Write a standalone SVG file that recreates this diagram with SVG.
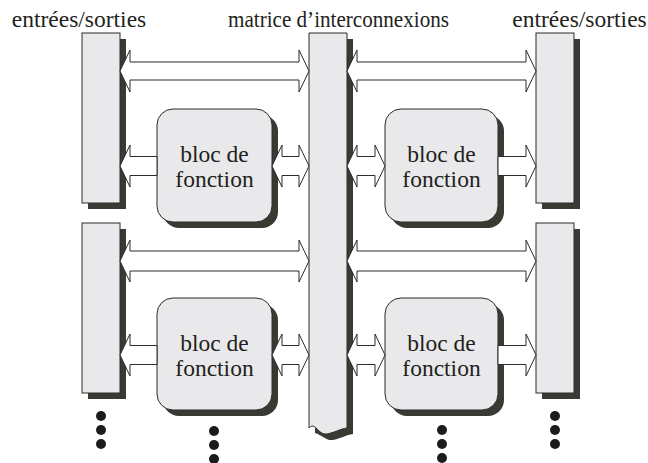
<svg xmlns="http://www.w3.org/2000/svg" width="648" height="463" viewBox="0 0 648 463">
  <style>
    .shadow { fill: #3a3a35; }
    .box { fill: #e9e9eb; stroke: #2b2b2b; stroke-width: 1; }
    .arrow { fill: #ffffff; stroke: #2b2b2b; stroke-width: 1; stroke-linejoin: miter; }
    .label { font-family: "Liberation Serif", "Times New Roman", serif; font-size: 23.5px; fill: #231f20; text-anchor: middle; }
    .dot { fill: #1c1c1c; }
  </style>
  <rect width="648" height="463" fill="#ffffff"/>

  <!-- column headings -->
  <g id="headings">
    <text class="label" x="79" y="27">entrées/sorties</text>
    <text class="label" x="338.5" y="27" style="font-size:22.5px" textLength="221" lengthAdjust="spacingAndGlyphs">matrice d’interconnexions</text>
    <text class="label" x="579.5" y="27">entrées/sorties</text>
  </g>

  <!-- I/O banks -->
  <g id="io-top-left">
    <rect class="shadow" x="88" y="39" width="38" height="170"/>
    <rect class="box" x="82" y="33" width="38" height="170"/>
  </g>
  <g id="io-bottom-left">
    <rect class="shadow" x="88" y="229" width="38" height="170"/>
    <rect class="box" x="82" y="223" width="38" height="170"/>
  </g>
  <g id="io-top-right">
    <rect class="shadow" x="542" y="39" width="38" height="170"/>
    <rect class="box" x="536" y="33" width="38" height="170"/>
  </g>
  <g id="io-bottom-right">
    <rect class="shadow" x="542" y="229" width="38" height="170"/>
    <rect class="box" x="536" y="223" width="38" height="170"/>
  </g>

  <!-- interconnect matrix with torn bottom edge -->
  <g id="matrix">
    <path class="shadow" d="M315,39 H353 V434 C346,435 342,438 333,440 C326,441 322,435 315,433 Z"/>
    <path class="box" d="M309,33 H347 V428 C340,429 336,432 327,434 C320,435 317,427 313,426 C311,426 310,427 309,428 Z"/>
  </g>

  <!-- function blocks -->
  <g id="block-top-left">
    <rect class="shadow" x="163" y="115" width="115" height="113" rx="16"/>
    <rect class="box" x="157" y="109" width="115" height="113" rx="16"/>
    <text class="label" x="214.5" y="162">bloc de</text>
    <text class="label" x="214.5" y="187">fonction</text>
  </g>
  <g id="block-top-right">
    <rect class="shadow" x="391" y="115" width="113" height="113" rx="16"/>
    <rect class="box" x="385" y="109" width="113" height="113" rx="16"/>
    <text class="label" x="441.5" y="162">bloc de</text>
    <text class="label" x="441.5" y="187">fonction</text>
  </g>
  <g id="block-bottom-left">
    <rect class="shadow" x="163" y="304" width="115" height="112" rx="16"/>
    <rect class="box" x="157" y="298" width="115" height="112" rx="16"/>
    <text class="label" x="214.5" y="351">bloc de</text>
    <text class="label" x="214.5" y="376">fonction</text>
  </g>
  <g id="block-bottom-right">
    <rect class="shadow" x="391" y="304" width="113" height="112" rx="16"/>
    <rect class="box" x="385" y="298" width="113" height="112" rx="16"/>
    <text class="label" x="441.5" y="351">bloc de</text>
    <text class="label" x="441.5" y="376">fonction</text>
  </g>

  <!-- bus connectors -->
  <g id="connectors">
    <!-- I/O to matrix, upper row -->
    <polygon class="arrow" points="120,71 130,50 130,62 299,62 299,50 309,71 299,92 299,80 130,80 130,92"/>
    <polygon class="arrow" points="347,71 357,50 357,62 526,62 526,50 536,71 526,92 526,80 357,80 357,92"/>
    <!-- I/O to matrix, lower row -->
    <polygon class="arrow" points="120,261 130,240 130,251 299,251 299,240 309,261 299,282 299,271 130,271 130,282"/>
    <polygon class="arrow" points="347,261 357,240 357,251 526,251 526,240 536,261 526,282 526,271 357,271 357,282"/>
    <!-- upper blocks -->
    <polygon class="arrow" points="120,166 130,145 130,156.5 157,156.5 157,175.5 130,175.5 130,187"/>
    <polygon class="arrow" points="272,166 282,145 282,156.5 299,156.5 299,145 309,166 299,187 299,175.5 282,175.5 282,187"/>
    <polygon class="arrow" points="347,166 357,145 357,156.5 375,156.5 375,145 385,166 375,187 375,175.5 357,175.5 357,187"/>
    <polygon class="arrow" points="536,166 526,145 526,156.5 498,156.5 498,175.5 526,175.5 526,187"/>
    <!-- lower blocks -->
    <polygon class="arrow" points="120,355 130,334 130,345.5 157,345.5 157,364.5 130,364.5 130,376"/>
    <polygon class="arrow" points="272,355 282,334 282,345.5 299,345.5 299,334 309,355 299,376 299,364.5 282,364.5 282,376"/>
    <polygon class="arrow" points="347,355 357,334 357,345.5 375,345.5 375,334 385,355 375,376 375,364.5 357,364.5 357,376"/>
    <polygon class="arrow" points="536,355 526,334 526,345.5 498,345.5 498,364.5 526,364.5 526,376"/>
  </g>

  <!-- continuation dots -->
  <g id="ellipsis">
    <circle class="dot" cx="101" cy="416" r="5"/>
    <circle class="dot" cx="101" cy="430" r="5"/>
    <circle class="dot" cx="101" cy="444" r="5"/>
    <circle class="dot" cx="214" cy="431" r="5"/>
    <circle class="dot" cx="214" cy="445" r="5"/>
    <circle class="dot" cx="214" cy="459" r="5"/>
    <circle class="dot" cx="442" cy="430" r="5"/>
    <circle class="dot" cx="442" cy="444" r="5"/>
    <circle class="dot" cx="442" cy="458" r="5"/>
    <circle class="dot" cx="555" cy="416" r="5"/>
    <circle class="dot" cx="555" cy="430" r="5"/>
    <circle class="dot" cx="555" cy="444" r="5"/>
  </g>
</svg>
